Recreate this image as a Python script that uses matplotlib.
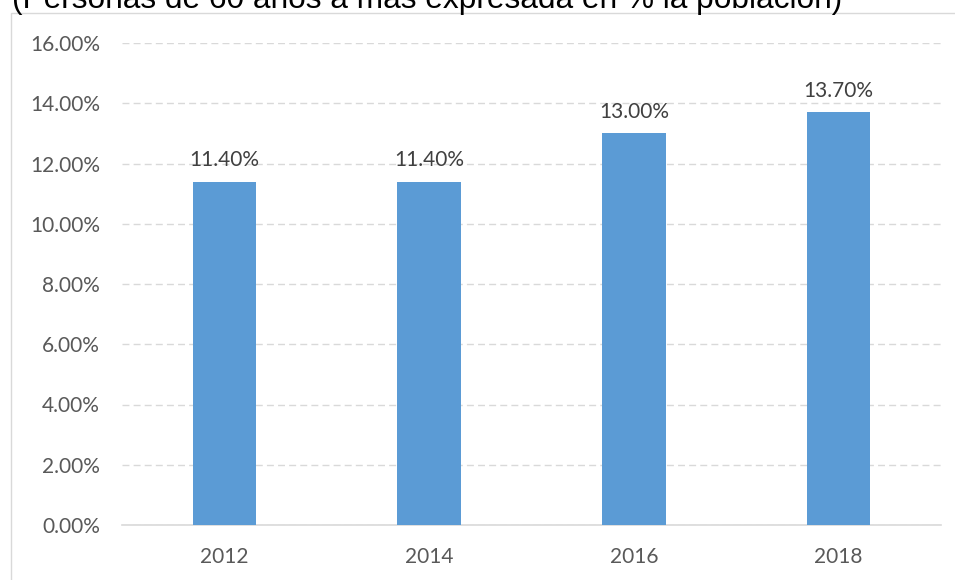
import matplotlib.pyplot as plt
from matplotlib.patches import Rectangle

years = ['2012', '2014', '2016', '2018']
values = [11.40, 11.40, 13.00, 13.70]
yticks = [0, 2, 4, 6, 8, 10, 12, 14, 16]

fig = plt.figure(figsize=(9.55, 5.8), dpi=100)
W, H = 955, 580

# outer chart border
fig.patches.append(Rectangle((10.5 / W, -0.01), 1.0, (580 - 12.5) / H + 0.01,
                             transform=fig.transFigure, fill=False,
                             edgecolor='#d9d9d9', linewidth=1.0))

ax = fig.add_axes([122 / W, 1 - 525 / H, (941 - 122) / W, (525 - 43) / H])
x = range(len(years))
ax.bar(x, values, width=0.31, color='#5b9bd5', zorder=3)

ax.set_xlim(-0.5, 3.5)
ax.set_ylim(0, 16)
ax.set_yticks(yticks)
ax.set_yticklabels([f'{v:.2f}%' for v in yticks])
ax.set_xticks(list(x))
ax.set_xticklabels(years)

ax.grid(axis='y', color='#d9d9d9', linestyle=(0, (5, 3)), linewidth=1.0, zorder=0)
for s in ['top', 'right', 'left']:
    ax.spines[s].set_visible(False)
ax.spines['bottom'].set_color('#d9d9d9')
ax.spines['bottom'].set_linewidth(1.2)
ax.tick_params(length=0, labelsize=15, colors='#595959', pad=16)
ax.tick_params(axis='x', pad=16)
for lbl in ax.get_xticklabels() + ax.get_yticklabels():
    lbl.set_fontfamily('Lato')

for xi, v in zip(x, values):
    ax.annotate(f'{v:.2f}%', (xi, v), xytext=(0, 8), textcoords='offset points',
                ha='center', va='bottom', fontsize=15, color='#404040',
                family='Lato')

fig.text(12 / W, 1 - 8 / H, '(Personas de 60 años a más expresada en % la población)',
         ha='left', va='baseline', fontsize=22.8, color='black',
         family='Liberation Sans')

fig.savefig('out.png', dpi=100)
